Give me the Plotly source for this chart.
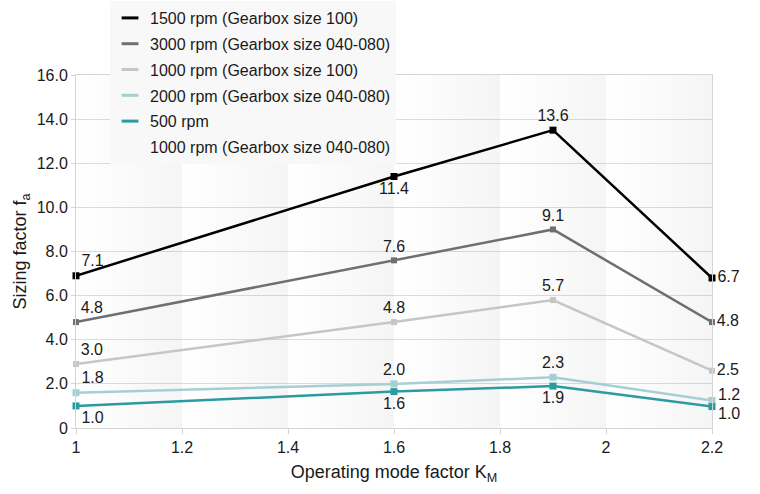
import plotly.graph_objects as go

# operating mode factor K_M
km = [1.0, 1.6, 1.9, 2.2]

series_names = [
    "1500 rpm (Gearbox size 100)",
    "3000 rpm (Gearbox size 040-080)",
    "1000 rpm (Gearbox size 100)",
    "2000 rpm (Gearbox size 040-080)",
    "500 rpm",
    "1000 rpm (Gearbox size 040-080)",
]
series_colors = ["#000000", "#6f6f6f", "#c6c6c6", "#a6cfd3", "#2b9aa1", "rgba(0,0,0,0)"]

# plotted values (as drawn) and the printed data labels
fa_1500 = [6.9, 11.4, 13.5, 6.8]
fa_3000 = [4.8, 7.6, 9.0, 4.8]
fa_1000_100 = [2.9, 4.8, 5.8, 2.6]
fa_2000 = [1.6, 2.0, 2.3, 1.25]
fa_500 = [1.0, 1.65, 1.9, 0.97]

lbl_1500 = ["7.1", "11.4", "13.6", "6.7"]
lbl_3000 = ["4.8", "7.6", "9.1", "4.8"]
lbl_1000_100 = ["3.0", "4.8", "5.7", "2.5"]
lbl_2000 = ["1.8", "2.0", "2.3", "1.2"]
lbl_500 = ["1.0", "1.6", "1.9", "1.0"]

x_ticks = [1.0, 1.2, 1.4, 1.6, 1.8, 2.0, 2.2]
x_ticktext = ["1", "1.2", "1.4", "1.6", "1.8", "2", "2.2"]
y_ticks = [0, 2, 4, 6, 8, 10, 12, 14, 16]
y_ticktext = ["0", "2.0", "4.0", "6.0", "8.0", "10.0", "12.0", "14.0", "16.0"]

FONT = "Liberation Sans, Arial, sans-serif"
TEXT_COLOR = "#1a1a1a"

fig = go.Figure()

# shaded bands: each 0.2 step fades from white to light grey
for a, b in zip(x_ticks[:-1], x_ticks[1:]):
    fig.add_trace(
        go.Scatter(
            x=[a, b, b, a, a],
            y=[y_ticks[0], y_ticks[0], y_ticks[-1], y_ticks[-1], y_ticks[0]],
            mode="lines",
            fill="toself",
            fillgradient=dict(
                type="horizontal",
                colorscale=[[0, "rgba(0,0,0,0)"], [1, "rgba(0,0,0,0.04)"]],
            ),
            line=dict(width=0),
            hoverinfo="skip",
            showlegend=False,
        )
    )

# (values, labels, label positions, marker size, end label as annotation shift)
lines = [
    (fa_1500, lbl_1500, ["top right", "bottom center", "top center", "middle right"], 7, None),
    (fa_3000, lbl_3000, ["top right", "top center", "top center", "middle right"], 6, None),
    (fa_1000_100, lbl_1000_100, ["top right", "top center", "top center", "middle right"], 6, None),
    (fa_2000, lbl_2000, ["top right", "top center", "top center", "middle right"], 7, 6),
    (fa_500, lbl_500, ["bottom right", "bottom center", "bottom center", "middle right"], 7, -7),
]

for i, (vals, labels, pos, msize, end_shift) in enumerate(lines):
    text = list(labels)
    if end_shift is not None:
        # the two close end labels get nudged apart
        text[-1] = ""
        fig.add_annotation(
            x=km[-1],
            y=vals[-1],
            text=labels[-1],
            showarrow=False,
            xanchor="left",
            xshift=4,
            yshift=end_shift,
            font=dict(family=FONT, size=16, color=TEXT_COLOR),
        )
    fig.add_trace(
        go.Scatter(
            x=km,
            y=vals,
            mode="lines+markers+text",
            text=text,
            textposition=pos,
            textfont=dict(family=FONT, size=16, color=TEXT_COLOR),
            line=dict(color=series_colors[i], width=2.5),
            marker=dict(symbol="square", size=msize, color=series_colors[i]),
            cliponaxis=False,
            showlegend=False,
        )
    )

# legend entries with short line keys
for i, name in enumerate(series_names):
    fig.add_trace(
        go.Scatter(
            x=[None],
            y=[None],
            mode="markers",
            name=name,
            legendgroup=f"g{i}",
            marker=dict(
                symbol="line-ew",
                size=12,
                color=series_colors[i],
                line=dict(width=3, color=series_colors[i]),
            ),
        )
    )

fig.update_layout(
    width=760,
    height=494,
    margin=dict(l=76, r=48, t=75, b=66, autoexpand=False),
    paper_bgcolor="white",
    plot_bgcolor="white",
    font=dict(family=FONT, size=16, color=TEXT_COLOR),
    legend=dict(
        x=0.0535,
        y=1.2096,
        xanchor="left",
        yanchor="top",
        bgcolor="#f8f8f8",
        font=dict(family=FONT, size=16, color=TEXT_COLOR),
        itemwidth=30,
        tracegroupgap=2,
    ),
    xaxis=dict(
        range=[1.0, 2.2],
        tickvals=x_ticks,
        ticktext=x_ticktext,
        showgrid=False,
        showline=True,
        linecolor="#d4d4d4",
        linewidth=1,
        mirror=True,
        ticks="outside",
        ticklen=5,
        tickcolor="#d4d4d4",
        zeroline=False,
        title=dict(text="Operating mode factor K<sub>M</sub>", font=dict(size=18), standoff=10),
    ),
    yaxis=dict(
        range=[0, 16],
        tickvals=y_ticks,
        ticktext=y_ticktext,
        showgrid=True,
        gridcolor="#dcdcdc",
        gridwidth=1,
        showline=True,
        linecolor="#d4d4d4",
        linewidth=1,
        mirror=True,
        ticks="outside",
        ticklen=4,
        tickcolor="#d4d4d4",
        zeroline=False,
        title=dict(text="Sizing factor f<sub>a</sub>", font=dict(size=18), standoff=5),
    ),
)

fig.write_html(
    "out.html",
    config={"displayModeBar": False},
    post_script="document.body.style.margin='0';",
)
